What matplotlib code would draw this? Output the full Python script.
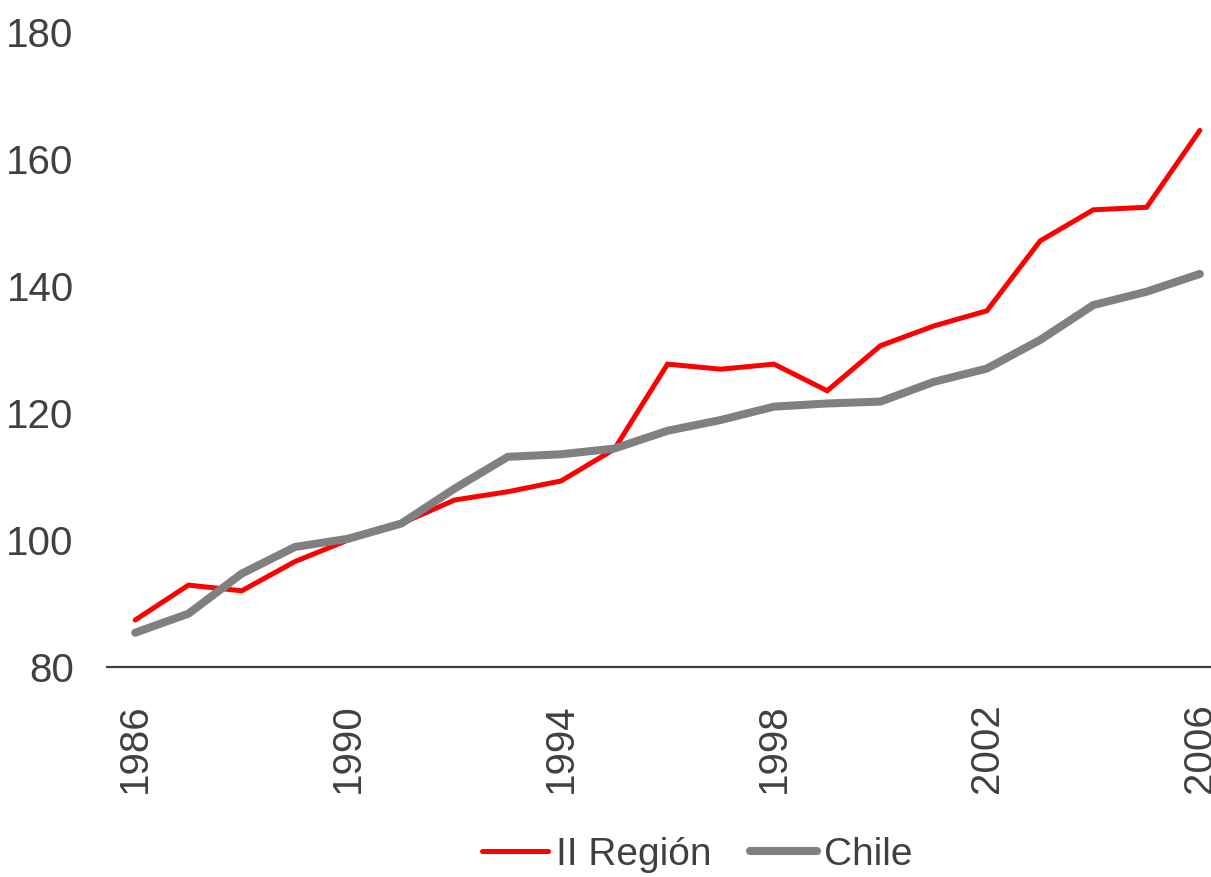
import matplotlib.pyplot as plt
import matplotlib.font_manager as fm

# Data
years = list(range(1986, 2007))
region = [87.4, 92.9, 92.0, 96.6, 100.0, 102.6, 106.3, 107.6, 109.3, 114.3,
          127.7, 126.9, 127.7, 123.5, 130.6, 133.7, 136.1, 147.1, 152.0, 152.4, 164.5]
chile = [85.4, 88.4, 94.7, 98.9, 100.2, 102.6, 108.1, 113.1, 113.5, 114.4,
         117.2, 118.9, 121.0, 121.5, 121.8, 124.9, 127.0, 131.5, 137.0, 139.1, 141.9]
xticks = [1986, 1990, 1994, 1998, 2002, 2006]
yticks = [80, 100, 120, 140, 160, 180]

names = {f.name for f in fm.fontManager.ttflist}
font = 'Liberation Sans Narrow' if 'Liberation Sans Narrow' in names else 'Liberation Sans'
plt.rcParams['font.family'] = [font, 'DejaVu Sans']

text_color = '#404040'

fig = plt.figure(figsize=(12.11, 8.77), dpi=100)
ax = fig.add_axes([107 / 1211, 210 / 877, 1 - 107 / 1211, 635 / 877])

ax.plot(years, region, color='#ff0000', linewidth=3.6, label='II Región',
        solid_capstyle='round', solid_joinstyle='miter')
ax.plot(years, chile, color='#808080', linewidth=5.8, label='Chile',
        solid_capstyle='round', solid_joinstyle='miter')

ax.set_xlim(1985.47, 2006.21)
ax.set_ylim(80, 180)
ax.set_xticks(xticks)
ax.set_yticks(yticks)
ax.set_xticklabels([str(x) for x in xticks], rotation=90)

for side in ['left', 'right', 'top']:
    ax.spines[side].set_visible(False)
ax.spines['bottom'].set_color(text_color)
ax.spines['bottom'].set_linewidth(1.6)
ax.tick_params(axis='both', length=0, labelsize=29, colors=text_color)
ax.tick_params(axis='x', pad=26)
ax.tick_params(axis='y', pad=24)

leg = fig.legend(loc='center', bbox_to_anchor=(0.576, 0.025), ncol=2, frameon=False,
                 fontsize=28, handlelength=1.7, handletextpad=0.2, columnspacing=1.0)
for t in leg.get_texts():
    t.set_color(text_color)

fig.savefig('out.png', dpi=100, facecolor='white')
